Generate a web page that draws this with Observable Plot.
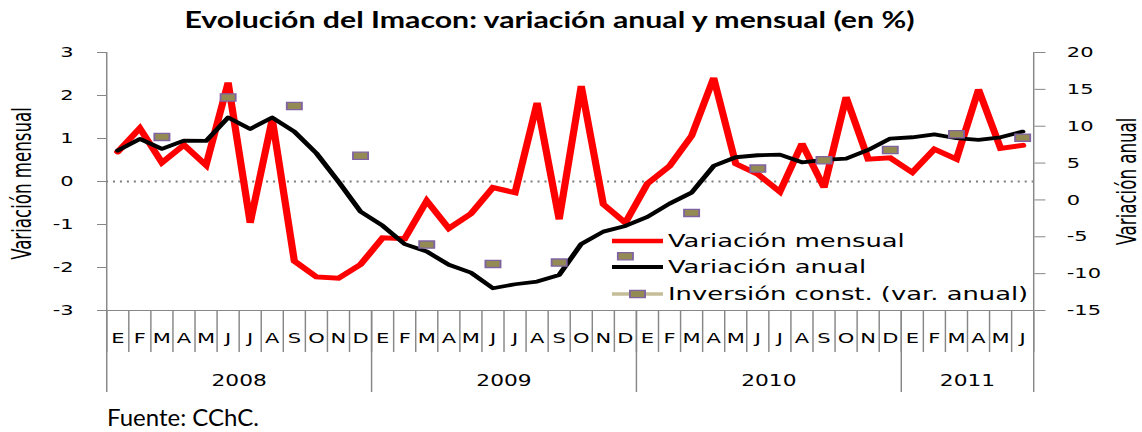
<!DOCTYPE html>
<html lang="es"><head><meta charset="utf-8">
<script src="https://cdn.jsdelivr.net/npm/d3@7"></script>
<script src="https://cdn.jsdelivr.net/npm/@observablehq/plot@0.6"></script>
<style>
html,body{margin:0;padding:0;background:#fff;}
body{position:relative;width:1142px;height:432px;overflow:hidden;}
#title{position:absolute;left:0;top:2px;width:1100px;text-align:center;font:700 22px Lato,"Open Sans",sans-serif;color:#000;white-space:nowrap;line-height:36px;}
#title span{display:inline-block;transform-origin:50% 50%;}
#chart{position:absolute;left:0;top:40px;}
#chart svg{transform-origin:0 0;}
#caption{position:absolute;left:107px;top:402px;font:400 24px Lato,"Open Sans",sans-serif;color:#000;white-space:nowrap;line-height:30px;}
</style></head><body>
<div id="title"><span>Evolución del Imacon: variación anual y mensual (en %)</span></div>
<div id="chart"></div>
<div id="caption">Fuente: CChC.</div>
<script>
// ---- data ----
const meses = ["E","F","M","A","M","J","J","A","S","O","N","D"];
const anios = ["2008","2009","2010","2011"];
const mesesPorAnio = [12,12,12,6];
const variacionMensual = [
  0.69, 1.24, 0.44, 0.85, 0.38, 2.30, -0.96, 1.45, -1.85, -2.22, -2.25, -1.93,
  -1.31, -1.33, -0.45, -1.09, -0.75, -0.14, -0.26, 1.83, -0.88, 2.22, -0.53, -0.96,
  -0.05, 0.36, 1.06, 2.41, 0.41, 0.17, -0.24, 0.88, -0.14, 1.96, 0.52, 0.55,
  0.21, 0.75, 0.52, 2.14, 0.77, 0.84
];
const variacionAnual = [
  6.7, 8.28, 6.92, 8.05, 8.0, 11.17, 9.63, 11.17, 9.27, 6.33, 2.49, -1.6,
  -3.5, -6.0, -7.0, -8.8, -9.86, -11.98, -11.44, -11.08, -10.18, -5.97, -4.3, -3.53,
  -2.3, -0.5, 0.99, 4.61, 5.79, 6.06, 6.15, 5.11, 5.43, 5.61, 6.78, 8.32,
  8.5, 8.9, 8.37, 8.14, 8.5, 9.27
];
// trimestral (marzo, junio, septiembre, diciembre)
const inversionConst = [8.55, 13.9, 12.75, 6.0, -6.06, -8.68, -8.5, -7.64, -1.76, 4.25, 5.38, 6.78, 8.9, 8.45];
const ticksIzq = [-3,-2,-1,0,1,2,3];
const ticksDer = [-15,-10,-5,0,5,10,15,20];
const tituloIzq = "Variación mensual";
const tituloDer = "Variación anual";
const legendLabels = ["Variación mensual","Variación anual","Inversión const. (var. anual)"];

// ---- helpers ----
const S = 1.45;                 // horizontal stretch of the original picture
const W0 = 1142 / S;
const L0 = -3, L1 = 3, R0 = -15, R1 = 20;
const toLeft = v => L0 + (v - R0) * (L1 - L0) / (R1 - R0);
const fromLeft = y => R0 + (y - L0) * (R1 - R0) / (L1 - L0);
const n = variacionMensual.length;
const serieM = variacionMensual.map((v,i) => ({x: i + 0.5, y: v}));
const serieA = variacionAnual.map((v,i) => ({x: i + 0.5, y: toLeft(v)}));
const serieI = inversionConst.map((v,k) => ({x: 3*k + 2.5, y: toLeft(v)}));
const mesTicks = d3.range(n).map(i => i + 0.5);
const yearStarts = [0, ...d3.cumsum(mesesPorAnio)];
const yearCenters = anios.map((a,k) => (yearStarts[k] + yearStarts[k+1]) / 2);
const gray = "#878787";
const rectSymbol = {draw(ctx){ctx.moveTo(-5.2,-3.6);ctx.lineTo(5.2,-3.6);ctx.lineTo(5.2,3.6);ctx.lineTo(-5.2,3.6);ctx.closePath();}};
const narrow = "'Liberation Sans Narrow', 'DejaVu Sans Condensed', sans-serif";

const chart = Plot.plot({
  width: W0, height: 365,
  marginLeft: 106/S, marginRight: 109/S, marginTop: 12, marginBottom: 95,
  x: {domain: [0, n], label: null},
  y: {domain: [L0, L1], label: null},
  style: {fontFamily: "'DejaVu Sans', Verdana, sans-serif", fontSize: "14px", color: "#000", background: "#fff", overflow: "visible"},
  marks: [
    Plot.ruleY([0], {stroke: "#7f7f7f", strokeWidth: 1.8, strokeDasharray: "1.4,3.4"}),
    Plot.axisX({ticks: d3.range(n + 1), tickSize: 42, stroke: gray, fill: "none", label: null}),
    Plot.axisX({ticks: yearStarts, tickSize: 82, stroke: gray, fill: "none", label: null}),
    Plot.axisX({ticks: mesTicks, tickSize: 0, tickPadding: 22, tickFormat: d => meses[Math.floor(d) % 12], fontSize: 14.5, label: null}),
    Plot.axisX({ticks: yearCenters, tickSize: 0, tickPadding: 65, tickFormat: d => anios[yearCenters.indexOf(d)], fontSize: 15, label: null}),
    Plot.ruleY([L0], {stroke: gray, strokeWidth: 1.2}),
    Plot.ruleX([0, n], {stroke: gray, strokeWidth: 1}),
    Plot.axisY({ticks: ticksIzq, tickSize: 6.2, tickPadding: 16.6, stroke: gray, tickFormat: d => String(d), fontSize: 14.5, label: null}),
    Plot.axisY({ticks: ticksDer.map(toLeft), anchor: "right", tickSize: 7.6, tickPadding: 15.2, stroke: gray, tickFormat: d => String(Math.round(fromLeft(d))), fontSize: 14.5, label: null}),
    Plot.text([tituloIzq], {text: d => d, frameAnchor: "left", textAnchor: "middle", rotate: -90, dx: -58, dy: 2, fontFamily: narrow, fontSize: 18.5}),
    Plot.text([tituloDer], {text: d => d, frameAnchor: "right", textAnchor: "middle", rotate: -90, dx: 64.3, fontFamily: narrow, fontSize: 18.5}),
    Plot.line(serieM, {x: "x", y: "y", stroke: "#FF0000", strokeWidth: 5, strokeLinejoin: "miter", strokeMiterlimit: 3}),
    Plot.line(serieA, {x: "x", y: "y", stroke: "#000000", strokeWidth: 3.8, strokeLinejoin: "round"}),
    Plot.dot(serieI, {x: "x", y: "y", symbol: rectSymbol, fill: "#948A54", stroke: "#8064A2", strokeWidth: 1.3})
  ]
});
chart.style.transform = `scaleX(${S})`;
document.getElementById("chart").appendChild(chart);

// ---- legend (inside plot area) ----
const svg = d3.select(chart);
const lg = svg.append("g")
  .attr("font-family", "'DejaVu Sans', Verdana, sans-serif")
  .attr("font-size", 17.8).attr("fill", "#000").attr("text-anchor", "start");
const items = [
  {label: legendLabels[0], color: "#FF0000", w: 4.5, y: 201, marker: false},
  {label: legendLabels[1], color: "#000000", w: 4, y: 227, marker: false},
  {label: legendLabels[2], color: "#C4BD97", w: 3.5, y: 254, marker: true}
];
const lx1 = 612/S, lx2 = 663/S, tx = 668/S;
items.forEach(it => {
  lg.append("line").attr("x1", lx1).attr("x2", lx2).attr("y1", it.y).attr("y2", it.y)
    .attr("stroke", it.color).attr("stroke-width", it.w);
  if (it.marker) lg.append("path").attr("transform", `translate(${(lx1+lx2)/2},${it.y})`)
    .attr("d", d3.symbol(rectSymbol)()).attr("fill", "#948A54").attr("stroke", "#8064A2").attr("stroke-width", 1.3);
  lg.append("text").attr("x", tx).attr("y", it.y).attr("dy", "0.36em").attr("text-anchor", "start").text(it.label);
});

// ---- fit title width ----
const span = document.querySelector("#title span");
const w = span.getBoundingClientRect().width;
span.style.transform = `scaleX(${730 / w})`;
</script></body></html>
